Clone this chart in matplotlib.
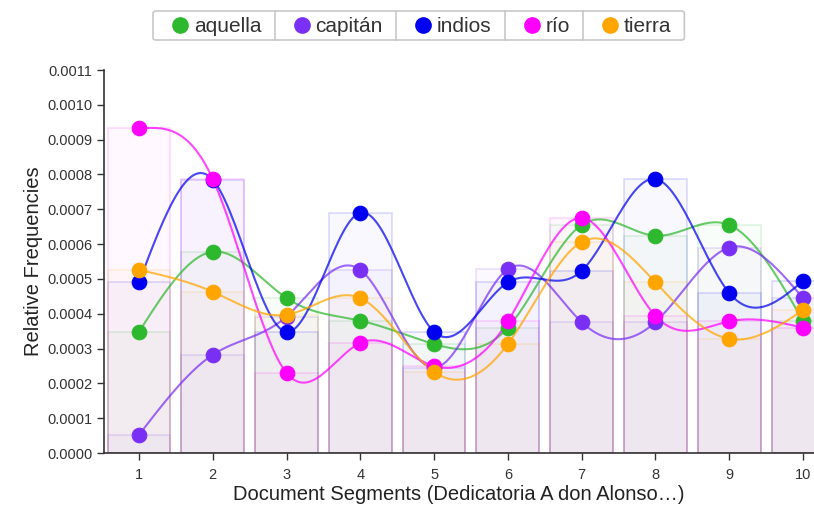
import matplotlib
matplotlib.use("Agg")
import matplotlib.pyplot as plt
import numpy as np
from matplotlib.patches import FancyBboxPatch
from matplotlib.lines import Line2D

plt.rcParams['font.family'] = ['Liberation Sans', 'DejaVu Sans']

segments = [1, 2, 3, 4, 5, 6, 7, 8, 9, 10]
names = ['aquella', 'capitán', 'indios', 'río', 'tierra']
colors = ['#2eb82e', '#7a2ff5', '#0000f0', '#ff00ff', '#ffa500']

aquella = [0.000348, 0.000578, 0.000445, 0.000380, 0.000313, 0.000360, 0.000655, 0.000624, 0.000655, 0.000380]
capitan = [0.000052, 0.000282, 0.000392, 0.000526, 0.000245, 0.000528, 0.000376, 0.000376, 0.000590, 0.000445]
indios = [0.000490, 0.000785, 0.000348, 0.000690, 0.000348, 0.000490, 0.000523, 0.000787, 0.000460, 0.000494]
rio = [0.000932, 0.000787, 0.000230, 0.000316, 0.000250, 0.000378, 0.000675, 0.000394, 0.000378, 0.000360]
tierra = [0.000526, 0.000463, 0.000397, 0.000445, 0.000233, 0.000313, 0.000606, 0.000490, 0.000328, 0.000410]
series = [aquella, capitan, indios, rio, tierra]

ylabel = 'Relative Frequencies'
xlabel = 'Document Segments (Dedicatoria A don Alonso…)'


def natural_spline(x, y, n=30):
    # natural cubic spline through the points (zero curvature at ends)
    x = np.asarray(x, float)
    y = np.asarray(y, float)
    k = len(x)
    h = np.diff(x)
    A = np.zeros((k, k))
    r = np.zeros(k)
    A[0, 0] = A[-1, -1] = 1
    for i in range(1, k - 1):
        A[i, i - 1] = h[i - 1]
        A[i, i] = 2 * (h[i - 1] + h[i])
        A[i, i + 1] = h[i]
        r[i] = 6 * ((y[i + 1] - y[i]) / h[i] - (y[i] - y[i - 1]) / h[i - 1])
    M = np.linalg.solve(A, r)
    xs, ys = [], []
    for i in range(k - 1):
        t = np.linspace(x[i], x[i + 1], n, endpoint=(i == k - 2))
        a = x[i + 1] - t
        b = t - x[i]
        s = (M[i] * a ** 3 + M[i + 1] * b ** 3) / (6 * h[i]) \
            + (y[i] / h[i] - M[i] * h[i] / 6) * a \
            + (y[i + 1] / h[i] - M[i + 1] * h[i] / 6) * b
        xs.append(t)
        ys.append(s)
    return np.concatenate(xs), np.concatenate(ys)


fig = plt.figure(figsize=(8.14, 5.11), dpi=100)
W, H = 814, 511
ax = fig.add_axes([104 / W, 1 - 453 / H, (814 - 104) / W, (453 - 70) / H])

for vals, c in zip(series, colors):
    ax.bar(segments, vals, width=0.85, color=matplotlib.colors.to_rgba(c, 0.028),
           edgecolor=matplotlib.colors.to_rgba(c, 0.13), linewidth=1.3, zorder=1)

for vals, c in zip(series, colors):
    xs, ys = natural_spline(segments, vals)
    ax.plot(xs, ys, color=c, alpha=0.72, linewidth=1.5, zorder=3)
    ax.plot(segments, vals, linestyle='none', marker='o', markersize=10.5,
            markerfacecolor=c, markeredgecolor=c, markeredgewidth=0.8, zorder=4)

ax.set_xlim(0.526, 10.15)
ax.set_ylim(0, 0.0011)
ax.set_xticks(segments)
ax.set_yticks(np.arange(0, 0.00111, 0.0001))
ax.yaxis.set_major_formatter(matplotlib.ticker.FormatStrFormatter('%.4f'))
for s in ['top', 'right']:
    ax.spines[s].set_visible(False)
for s in ['left', 'bottom']:
    ax.spines[s].set_color('#333333')
    ax.spines[s].set_linewidth(1.2)
ax.tick_params(colors='#333333', labelsize=10.5, length=5, width=1, labelcolor='#333333')
ax.tick_params(axis='x', pad=6)
ax.set_xlabel(xlabel, fontsize=14.5, color='#222222', labelpad=2)
ax.set_ylabel(ylabel, fontsize=14.5, color='#222222', labelpad=3)

# legend drawn as a row of boxed cells at the top
fig.canvas.draw()
renderer = fig.canvas.get_renderer()
ytop, ybot = 11, 40
ymid = (ytop + ybot) / 2
x = 153
edges = [x]
for name, c in zip(names, colors):
    mx = x + 27
    fig.add_artist(Line2D([mx / W], [1 - ymid / H], transform=fig.transFigure, marker='o',
                          markersize=11, markerfacecolor=c, markeredgecolor=c, linestyle='none'))
    t = fig.text((mx + 14) / W, 1 - (ymid + 0.5) / H, name, fontsize=15, color='#333333',
                 va='center', ha='left')
    tw = t.get_window_extent(renderer).width
    x = mx + 14 + tw + 13
    edges.append(x)

frame = FancyBboxPatch((edges[0] / W, 1 - ybot / H), (edges[-1] - edges[0]) / W, (ybot - ytop) / H,
                       boxstyle='round,pad=0,rounding_size=0.004', transform=fig.transFigure,
                       facecolor='none', edgecolor='#c8c8c8', linewidth=1.2)
fig.add_artist(frame)
for e in edges[1:-1]:
    fig.add_artist(Line2D([e / W, e / W], [1 - ybot / H, 1 - ytop / H], transform=fig.transFigure,
                          color='#c8c8c8', linewidth=1.2))

fig.savefig('out.png', dpi=100)
